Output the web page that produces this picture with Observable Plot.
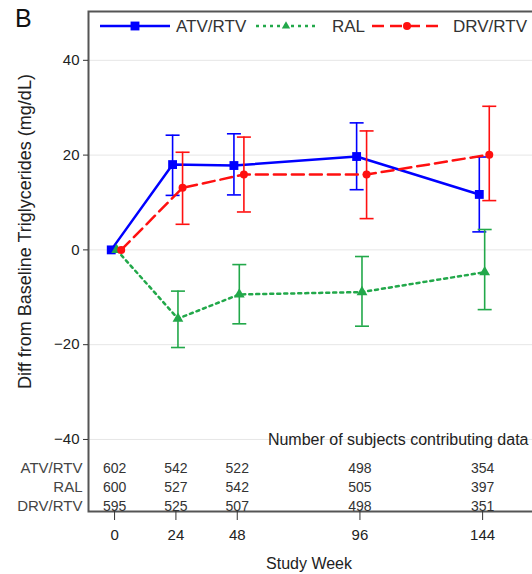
<!DOCTYPE html>
<html><head><meta charset="utf-8">
<script src="https://cdn.jsdelivr.net/npm/d3@7"></script>
<script src="https://cdn.jsdelivr.net/npm/@observablehq/plot@0.6"></script>
<style>
body{margin:0;background:#fff;overflow:hidden;font-family:"Liberation Sans",Arial,sans-serif;}
#wrap{position:relative;width:532px;height:574px;overflow:hidden;}
#chart{position:absolute;left:0;top:0;width:545px;height:574px;}
#chart svg{max-width:none !important;width:545px;height:574px;}
#panel{position:absolute;left:15px;top:4px;font-size:25px;color:#111;}
#legend{position:absolute;top:0;left:0;}
</style></head><body><div id="wrap"><div id="chart"></div><div id="panel">B</div><svg id="legend" width="532" height="40"></svg></div>
<script>
// ---- data ----
const weeks = [0, 24, 48, 96, 144];
const seriesNames = ["ATV/RTV", "RAL", "DRV/RTV"];
const atvMean = [0, 18.0, 17.8, 19.7, 11.7];
const atvLo   = [null, 11.5, 11.6, 12.7, 3.8];
const atvHi   = [null, 24.2, 24.5, 26.8, 19.6];
const ralMean = [0, -14.5, -9.4, -8.9, -4.7];
const ralLo   = [null, -20.6, -15.6, -16.1, -12.6];
const ralHi   = [null, -8.7, -3.1, -1.4, 4.3];
const drvMean = [0, 13.1, 15.9, 15.9, 20.1];
const drvLo   = [null, 5.4, 8.0, 6.6, 10.4];
const drvHi   = [null, 20.6, 23.8, 25.1, 30.3];
const atvN = [602, 542, 522, 498, 354];
const ralN = [600, 527, 542, 505, 397];
const drvN = [595, 525, 507, 498, 351];
const yTicks = [-40, -20, 0, 20, 40];
const xTicks = [0, 24, 48, 96, 144];
const tableTitle = "Number of subjects contributing data";
const xLabel = "Study Week";
const yLabel = "Diff from Baseline Triglycerides (mg/dL)";

// ---- styles ----
const styles = [
  {color: "#0000ff", dash: null, symbol: "square", r: 5, width: 2.5, offset: -1.3, lx: 100, lw: 70, tx: 176},
  {color: "#22a84a", dash: "3,4", symbol: "triangle", r: 4, width: 2.5, offset: 0.8, lx: 256, lw: 60, tx: 332},
  {color: "#ff1010", dash: "12,6", symbol: "circle", r: 4, width: 2.5, offset: 2.6, lx: 372, lw: 70, tx: 453}
];
const means = [atvMean, ralMean, drvMean];
const los = [atvLo, ralLo, drvLo];
const his = [atvHi, ralHi, drvHi];
const counts = [atvN, ralN, drvN];

const cap = {draw(ctx) { ctx.moveTo(-7, 0); ctx.lineTo(7, 0); }};

const marks = [
  Plot.gridY({ticks: yTicks, stroke: "#e6e6e6", strokeOpacity: 1}),
  Plot.frame({stroke: "#555", strokeWidth: 2}),
  Plot.axisX({ticks: xTicks, tickSize: 9, tickPadding: 9, label: null, fontSize: 15, stroke: "#333"}),
  Plot.axisY({ticks: yTicks, tickSize: 5, tickPadding: 4, label: null, fontSize: 15, stroke: "#333"})
];

seriesNames.forEach((name, s) => {
  const st = styles[s];
  const rows = weeks.map((w, i) => ({week: w, v: means[s][i], lo: los[s][i], hi: his[s][i]}));
  const bars = rows.filter(d => d.lo != null);
  const X = d => d.week + st.offset;
  marks.push(
    Plot.ruleX(bars, {x: X, y1: "lo", y2: "hi", stroke: st.color, strokeWidth: 1.6}),
    Plot.dot(bars, {x: X, y: "lo", symbol: cap, stroke: st.color, strokeWidth: 1.6}),
    Plot.dot(bars, {x: X, y: "hi", symbol: cap, stroke: st.color, strokeWidth: 1.6}),
    Plot.line(rows, {x: X, y: "v", stroke: st.color, strokeWidth: st.width, strokeDasharray: st.dash}),
    Plot.dot(rows, {x: X, y: "v", symbol: st.symbol, r: st.r, fill: st.color})
  );
  marks.push(
    Plot.text(weeks, {x: w => w, text: (w, i) => counts[s][i], frameAnchor: "bottom", dy: -43 + s * 19,
      lineAnchor: "middle", textAnchor: "middle", fontSize: 14, fill: "#333"}),
    Plot.text([name], {frameAnchor: "bottom-left", dx: -6, dy: -43 + s * 19, textAnchor: "end",
      lineAnchor: "middle", fontSize: 15, fill: "#444"})
  );
});

marks.push(
  Plot.text([tableTitle], {frameAnchor: "bottom-right", dx: -17, dy: -72, textAnchor: "end", lineAnchor: "middle", fontSize: 16, fill: "#222"}),
  Plot.text([xLabel], {frameAnchor: "bottom", dx: -8, dy: 52, textAnchor: "middle", lineAnchor: "middle", fontSize: 16, fill: "#222"}),
  Plot.text([yLabel], {frameAnchor: "left", dx: -63, dy: -30, rotate: -90, textAnchor: "middle", lineAnchor: "middle", fontSize: 18, fill: "#222"})
);

const chart = Plot.plot({
  width: 545, height: 574,
  marginLeft: 88, marginRight: 0, marginTop: 11, marginBottom: 63,
  style: {fontFamily: '"Liberation Sans", Arial, sans-serif', fontSize: "15px", color: "#222", background: "#fff"},
  x: {domain: [-10.2, 168.6]},
  y: {domain: [-55.2, 50.3]},
  marks
});
document.getElementById("chart").appendChild(chart);

// ---- legend (inside frame, top) ----
const legend = d3.select("#legend");
seriesNames.forEach((name, s) => {
  const st = styles[s];
  legend.append("line").attr("x1", st.lx).attr("x2", st.lx + st.lw).attr("y1", 26).attr("y2", 26)
    .attr("stroke", st.color).attr("stroke-width", st.width).attr("stroke-dasharray", st.dash);
  const type = st.symbol === "square" ? d3.symbolSquare : st.symbol === "triangle" ? d3.symbolTriangle2 : d3.symbolCircle;
  legend.append("path").attr("transform", `translate(${st.lx + st.lw / 2},26)`)
    .attr("d", d3.symbol(type, Math.PI * st.r * st.r)()).attr("fill", st.color);
  legend.append("text").attr("x", st.tx).attr("y", 26).attr("dy", "0.35em")
    .attr("font-size", 17).attr("fill", "#333").attr("font-family", '"Liberation Sans", Arial, sans-serif').text(name);
});
</script>
</body></html>
